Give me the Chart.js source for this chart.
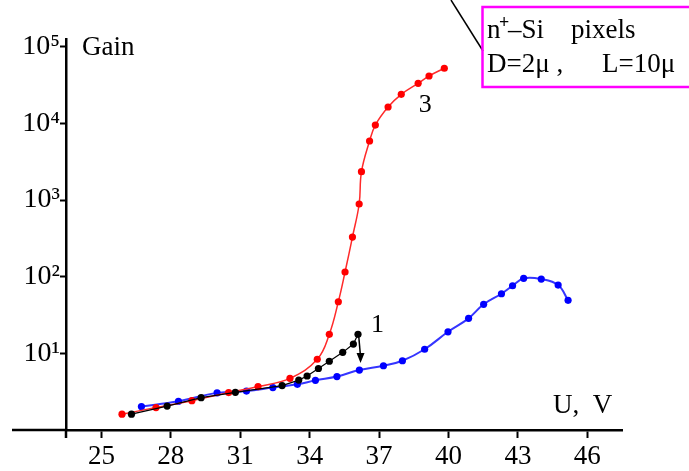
<!DOCTYPE html>
<html><head><meta charset="utf-8">
<script src="https://cdn.jsdelivr.net/npm/chart.js@4"></script>
<style>html,body{margin:0;padding:0;background:#fff;}canvas{display:block;}</style>
</head><body>
<canvas id="c" width="689" height="471"></canvas>
<script>
// ---- data ----
const xTicks = [25, 28, 31, 34, 37, 40, 43, 46];
const yTickExps = [1, 2, 3, 4, 5];

// curve 3 (red)
const redU    = [25.89, 27.36, 28.91, 30.50, 31.77, 33.15, 34.33, 34.85, 35.24, 35.53, 35.85, 36.14, 36.24, 36.59, 36.84, 37.39, 37.96, 38.69, 39.16, 39.82];
const redGain = [1.61, 1.96, 2.41, 3.08, 3.69, 4.72, 8.37, 17.7, 47.1, 115, 329, 887, 2340, 5890, 9510, 16340, 23930, 33300, 41500, 52300];

// blue curve
const blueU    = [26.73, 28.33, 30.00, 31.27, 32.41, 33.47, 34.25, 35.18, 36.15, 37.19, 38.01, 38.97, 39.98, 40.87, 41.52, 42.29, 42.77, 43.25, 44.01, 44.74, 45.17];
const blueGain = [2.02, 2.37, 3.05, 3.22, 3.58, 3.94, 4.44, 4.98, 6.05, 6.89, 8.00, 11.3, 19.1, 28.6, 43.6, 59.9, 76.2, 95.1, 93.1, 77.8, 49.1];

// curve 1 (black)
const blackU    = [26.30, 27.84, 29.31, 30.79, 32.81, 33.53, 33.89, 34.38, 34.85, 35.43, 35.89, 36.09];
const blackGain = [1.61, 2.05, 2.64, 3.10, 3.80, 4.48, 5.06, 6.34, 7.88, 10.3, 13.2, 17.7];

// arrow after curve 1 (from, to)
const arrowU    = [36.12, 36.20];
const arrowGain = [17.0, 7.5];

// curve number labels
const curveLabels = ['1', '3'];
const curveLabelU = [36.93, 39.0];
const curveLabelGain = [23.4, 17300];

const SERIF = '"Liberation Serif", "Times New Roman", serif';
const SUP = {'0':'⁰','1':'¹','2':'²','3':'³','4':'⁴','5':'⁵','6':'⁶','7':'⁷','8':'⁸','9':'⁹'};
const pts = (xs, ys) => xs.map((v, i) => ({x: v, y: ys[i]}));

const decor = {
  id: 'decor',
  afterDraw(chart) {
    const {ctx, chartArea: a, scales: {x, y}} = chart;
    ctx.save();
    ctx.strokeStyle = '#000';
    ctx.lineWidth = 2.5;
    // x axis continues left of the y axis, y axis continues below x axis
    ctx.beginPath();
    ctx.moveTo(a.left - 54, a.bottom); ctx.lineTo(a.left, a.bottom);
    ctx.moveTo(a.left, a.bottom); ctx.lineTo(a.left, a.bottom + 8);
    ctx.stroke();

    // axis titles
    ctx.fillStyle = '#000';
    ctx.textAlign = 'left';
    ctx.textBaseline = 'alphabetic';
    ctx.font = '27px ' + SERIF;
    ctx.fillText('Gain', a.left + 16, 55);
    ctx.fillText('U,  V', a.right - 69, a.bottom - 17);

    // curve labels
    ctx.textAlign = 'center';
    ctx.textBaseline = 'middle';
    ctx.font = '26px ' + SERIF;
    curveLabels.forEach((t, i) => {
      ctx.fillText(t, x.getPixelForValue(curveLabelU[i]), y.getPixelForValue(curveLabelGain[i]));
    });

    // arrow
    const x0 = x.getPixelForValue(arrowU[0]), y0 = y.getPixelForValue(arrowGain[0]);
    const x1 = x.getPixelForValue(arrowU[1]), y1 = y.getPixelForValue(arrowGain[1]);
    ctx.lineWidth = 1.5;
    ctx.beginPath(); ctx.moveTo(x0, y0); ctx.lineTo(x1, y1 - 6); ctx.stroke();
    ctx.beginPath();
    ctx.moveTo(x1, y1); ctx.lineTo(x1 - 4, y1 - 10); ctx.lineTo(x1 + 4, y1 - 10); ctx.closePath();
    ctx.fill();

    // pointer line
    ctx.lineWidth = 1.5;
    ctx.beginPath(); ctx.moveTo(451, 0); ctx.lineTo(483, 51); ctx.stroke();

    // info box
    ctx.strokeStyle = '#ff00ff';
    ctx.lineWidth = 2.5;
    ctx.strokeRect(482.5, 7, 240, 80);
    ctx.textAlign = 'left';
    ctx.textBaseline = 'alphabetic';
    ctx.font = '27px ' + SERIF;
    ctx.fillText('n', 487, 38);
    ctx.font = 'bold 18px ' + SERIF;
    ctx.fillText('+', 499, 28);
    ctx.font = '27px ' + SERIF;
    ctx.fillText('–Si', 508, 38);
    ctx.fillText('pixels', 571, 38);
    ctx.fillText('D=2μ ,', 487, 72);
    ctx.fillText('L=10μ', 602, 72);
    ctx.restore();
  }
};

new Chart(document.getElementById('c'), {
  type: 'line',
  data: {
    datasets: [
      {data: pts(blueU, blueGain), borderColor: '#3535ff', backgroundColor: '#0000ff', pointBackgroundColor: '#0000ff',
       borderWidth: 2, pointRadius: 3.6, pointBorderWidth: 0, tension: 0.4, order: 3},
      {data: pts(redU, redGain), borderColor: '#ff2a2a', backgroundColor: '#ff0000', pointBackgroundColor: '#ff0000',
       borderWidth: 1.5, pointRadius: 3.6, pointBorderWidth: 0, tension: 0.4, order: 2},
      {data: pts(blackU, blackGain), borderColor: '#000', backgroundColor: '#000', pointBackgroundColor: '#000',
       borderWidth: 1.2, pointRadius: 3.6, pointBorderWidth: 0, tension: 0, order: 1}
    ]
  },
  options: {
    responsive: false,
    animation: false,
    devicePixelRatio: 1,
    layout: {padding: {top: 39, right: 67, left: 0, bottom: 0}},
    plugins: {legend: {display: false}, tooltip: {enabled: false}},
    scales: {
      x: {
        type: 'linear', min: 23.47, max: 47.5,
        afterBuildTicks: s => { s.ticks = xTicks.map(v => ({value: v})); },
        afterFit: s => { s.height = 41; },
        grid: {display: true, drawOnChartArea: false, drawTicks: true, tickLength: 8, color: '#000', tickWidth: 2},
        border: {display: true, color: '#000', width: 2.5},
        ticks: {color: '#000', font: {family: SERIF, size: 27}, padding: 3, maxRotation: 0, autoSkip: false}
      },
      y: {
        type: 'logarithmic', min: 1, max: 126000,
        afterBuildTicks: s => { s.ticks = yTickExps.map(e => ({value: Math.pow(10, e)})); },
        afterFit: s => { s.width = 66; },
        grid: {display: true, drawOnChartArea: false, drawTicks: true, tickLength: 6, color: '#000', tickWidth: 2},
        border: {display: true, color: '#000', width: 2.5},
        ticks: {color: '#000', font: {family: SERIF, size: 28}, padding: 0, autoSkip: false,
                callback: v => '10' + SUP[String(Math.round(Math.log10(v)))]}
      }
    }
  },
  plugins: [decor]
});
</script>
</body></html>
